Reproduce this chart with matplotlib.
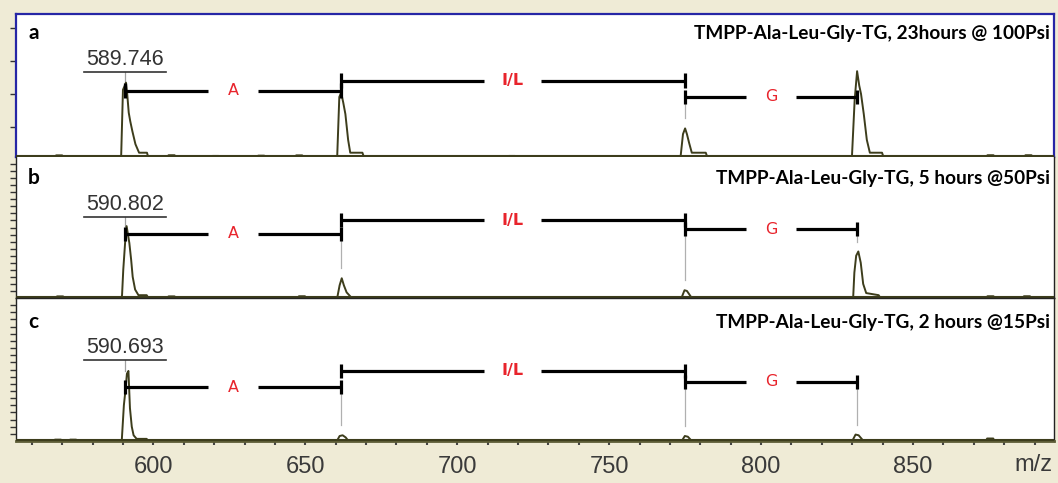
import numpy as np
import matplotlib
matplotlib.use('Agg')
import matplotlib.pyplot as plt

# ---------------- data ----------------
titles = ['TMPP-Ala-Leu-Gly-TG, 23hours @ 100Psi',
          'TMPP-Ala-Leu-Gly-TG, 5 hours @50Psi',
          'TMPP-Ala-Leu-Gly-TG, 2 hours @15Psi']
letters = ['a', 'b', 'c']
mass_labels = ['589.746', '590.802', '590.693']

# fragment ladder
ladder_mz = [590.8, 661.8, 774.8, 831.7]
ladder_names = ['A', 'I/L', 'G']
ladder_y = [[46.4, 53.4, 42.1],
            [45.4, 55.3, 48.9],
            [37.6, 49.0, 41.5]]
ladder_gap = [8.2, 9.4, 8.2]

# peak profiles (m/z, relative intensity in % of panel height)
peaks_a = [
    ([589.4, 590.0, 590.4, 591.0, 591.4, 591.9, 592.4, 593.1, 594.1, 594.7, 595.3, 597.9, 598.3],
     [0, 47, 49, 52, 44, 31, 25, 18, 9, 6, 3, 3, 0]),
    ([660.5, 661.2, 661.8, 662.5, 663.2, 664.1, 664.8, 668.8, 669.3],
     [0, 42, 45, 38, 30, 12, 3, 3, 0]),
    ([773.5, 774.3, 775.0, 775.6, 776.3, 777.2, 781.8, 782.3],
     [0, 16, 20, 16, 10, 3, 3, 0]),
    ([829.9, 830.8, 831.6, 832.3, 832.9, 833.8, 834.8, 835.8, 839.8, 840.3],
     [0, 40, 60, 50, 44, 30, 12, 3, 3, 0]),
]
peaks_b = [
    ([589.5, 589.7, 590.1, 590.7, 591.2, 592.1, 592.7, 593.2, 594.0, 595.1, 597.8, 598.4],
     [0, 2, 20, 39, 51, 39, 27, 15, 6, 2, 2, 0]),
    ([660.5, 661.3, 662.0, 662.7, 663.6, 665.3],
     [0, 9, 14, 9, 4, 0]),
    ([773.8, 774.8, 775.6, 777.2],
     [0, 5.5, 5, 0]),
    ([830.3, 830.7, 831.3, 832.0, 832.8, 833.6, 834.6, 838.7, 839.3],
     [0, 18, 30, 33, 25, 10, 3.5, 2, 0]),
]
peaks_c = [
    ([589.6, 590.3, 590.8, 591.3, 591.8, 592.3, 592.9, 593.5, 594.5, 597.8, 598.3],
     [0, 25, 35, 47, 49, 23, 10, 4, 1.5, 1.5, 0]),
    ([660.4, 661.3, 662.3, 663.3, 664.2],
     [0, 3.5, 4, 2.5, 0]),
    ([773.9, 774.9, 775.9, 777.2],
     [0, 3.5, 3, 0]),
    ([830.0, 831.1, 832.1, 833.7],
     [0, 4.5, 4, 0]),
]
# small noise bumps (m/z, height)
noise_a = [(569.0, 1.2), (606.0, 1.3), (620.5, 0.8), (635.5, 1.0), (648.0, 1.2),
           (718.0, 0.8), (875.5, 1.3), (888.0, 1.3)]
noise_b = [(569.3, 1.2), (606.0, 1.2), (648.9, 1.3), (875.5, 1.3), (887.5, 1.3)]
noise_c = [(568.6, 1.0), (573.6, 1.0), (875.4, 1.8)]

spectra = [peaks_a, peaks_b, peaks_c]
noises = [noise_a, noise_b, noise_c]

# label positions (data units, 0-100)
underline_y = [59.4, 57.4, 56.6]
masstext_y = [68.0, 66.3, 65.7]
title_y = [0.867, 0.851, 0.832]

xlo, xhi = 554.8, 896.4

# ---------------- plotting ----------------
beige = '#efebd6'
olive = '#3d3d1c'
red = '#e8242c'

fig = plt.figure(figsize=(10.58, 4.83), dpi=100, facecolor=beige)

W, H = 1058., 483.
left = 16/W; width = (1054-16)/W
boxes = [(14, 157), (157, 298), (298, 441)]

axes = []
for i, (t, b) in enumerate(boxes):
    ax = fig.add_axes([left, 1-b/H, width, (b-t)/H])
    ax.set_facecolor('white')
    ax.set_xlim(xlo, xhi)
    ax.set_ylim(0, 100)
    axes.append(ax)

for i, ax in enumerate(axes):
    # spectrum
    for mz, inten in spectra[i]:
        ax.plot(mz, inten, '-', color=olive, lw=1.4, zorder=3)
    for x0, h in noises[i]:
        ax.plot([x0-1.5, x0-1.0, x0+1.0, x0+1.5], [0, h, h, 0], '-', color=olive, lw=1.3, zorder=3)
    ax.axhline(0.4, color=olive, lw=1.5, zorder=3)

    # fragment ladder
    for k in range(3):
        x0 = ladder_mz[k]; x1 = ladder_mz[k+1]; y = ladder_y[i][k]
        xm = 0.5*(x0+x1); g = ladder_gap[k]
        ax.plot([x0, xm-g], [y, y], '-', color='k', lw=2.3, solid_capstyle='butt', zorder=4)
        ax.plot([xm+g, x1], [y, y], '-', color='k', lw=2.3, solid_capstyle='butt', zorder=4)
        for xc in (x0, x1):
            ax.plot([xc, xc], [y-5, y+5], '-', color='k', lw=2.3, solid_capstyle='butt', zorder=4)
        ax.text(xm, y, ladder_names[k], color=red, fontsize=11.5,
                fontweight='bold' if k == 1 else 'normal',
                ha='center', va='center', family='DejaVu Sans', zorder=5)

    # thin grey connectors from peaks to ladder
    peak_tops = [max(p[1]) for p in spectra[i]]
    for k in range(1, 4):
        ybar = min(ladder_y[i][k-1], ladder_y[i][min(k, 2)]) - 5
        ytop = peak_tops[k] + 7
        if ybar > ytop:
            ax.plot([ladder_mz[k], ladder_mz[k]], [ytop, ybar], '-', color='#b0b0b0', lw=0.9, zorder=2)

    # mass label on first peak
    ax.plot([ladder_mz[0], ladder_mz[0]], [peak_tops[0], underline_y[i]], '-', color='#a0a0a0', lw=0.9, zorder=2)
    ax.plot([ladder_mz[0]-13.5, ladder_mz[0]+13.5], [underline_y[i], underline_y[i]], '-', color='#333333', lw=1.2, zorder=4)
    ax.text(ladder_mz[0], masstext_y[i], mass_labels[i], ha='center', va='center',
            fontsize=15.5, color='#333333', family=['Liberation Sans', 'DejaVu Sans'])

    # panel letter and title
    ax.text(0.0116, title_y[i], letters[i], transform=ax.transAxes, fontsize=15,
            fontweight='bold', ha='left', va='center', family=['Lato', 'DejaVu Sans'])
    ax.text(0.996, title_y[i], titles[i], transform=ax.transAxes, fontsize=13.7,
            fontweight='bold', ha='right', va='center', family=['Lato', 'DejaVu Sans'])

    # y ticks (no labels)
    if i == 0:
        ax.set_yticks([21, 44, 67, 90])
    else:
        ax.set_yticks(np.arange(5, 100, 5))
    ax.tick_params(axis='y', direction='out', length=4, width=1, color='#333333', labelleft=False)
    ax.tick_params(axis='x', bottom=False, labelbottom=False)

# frames
for sp in axes[0].spines.values():
    sp.set_color('#2626a6'); sp.set_linewidth(1.6)
for ax in axes[1:]:
    for sp in ax.spines.values():
        sp.set_color('#222222'); sp.set_linewidth(1.0)
axes[1].spines['top'].set_visible(False)
axes[2].spines['bottom'].set_color('#5c5c36')
axes[2].spines['bottom'].set_linewidth(2.0)

# x axis of bottom panel
ax = axes[2]
ax.set_xticks(np.arange(600, 851, 50))
ax.set_xticks(np.arange(560, 891, 10), minor=True)
ax.tick_params(axis='x', which='both', bottom=True, labelbottom=True, direction='out',
               length=3, width=1.5, color='#444444', pad=8)
ax.tick_params(axis='x', which='major', labelsize=17, labelcolor='#3a3a3a')
for lab in ax.get_xticklabels():
    lab.set_family(['Liberation Sans', 'DejaVu Sans'])
ax.text(1033/W, 1-465/H, 'm/z', transform=fig.transFigure, fontsize=17, color='#3a3a3a',
        ha='center', va='center', family=['Liberation Sans', 'DejaVu Sans'])

plt.savefig('out.png', dpi=100, facecolor=beige)
